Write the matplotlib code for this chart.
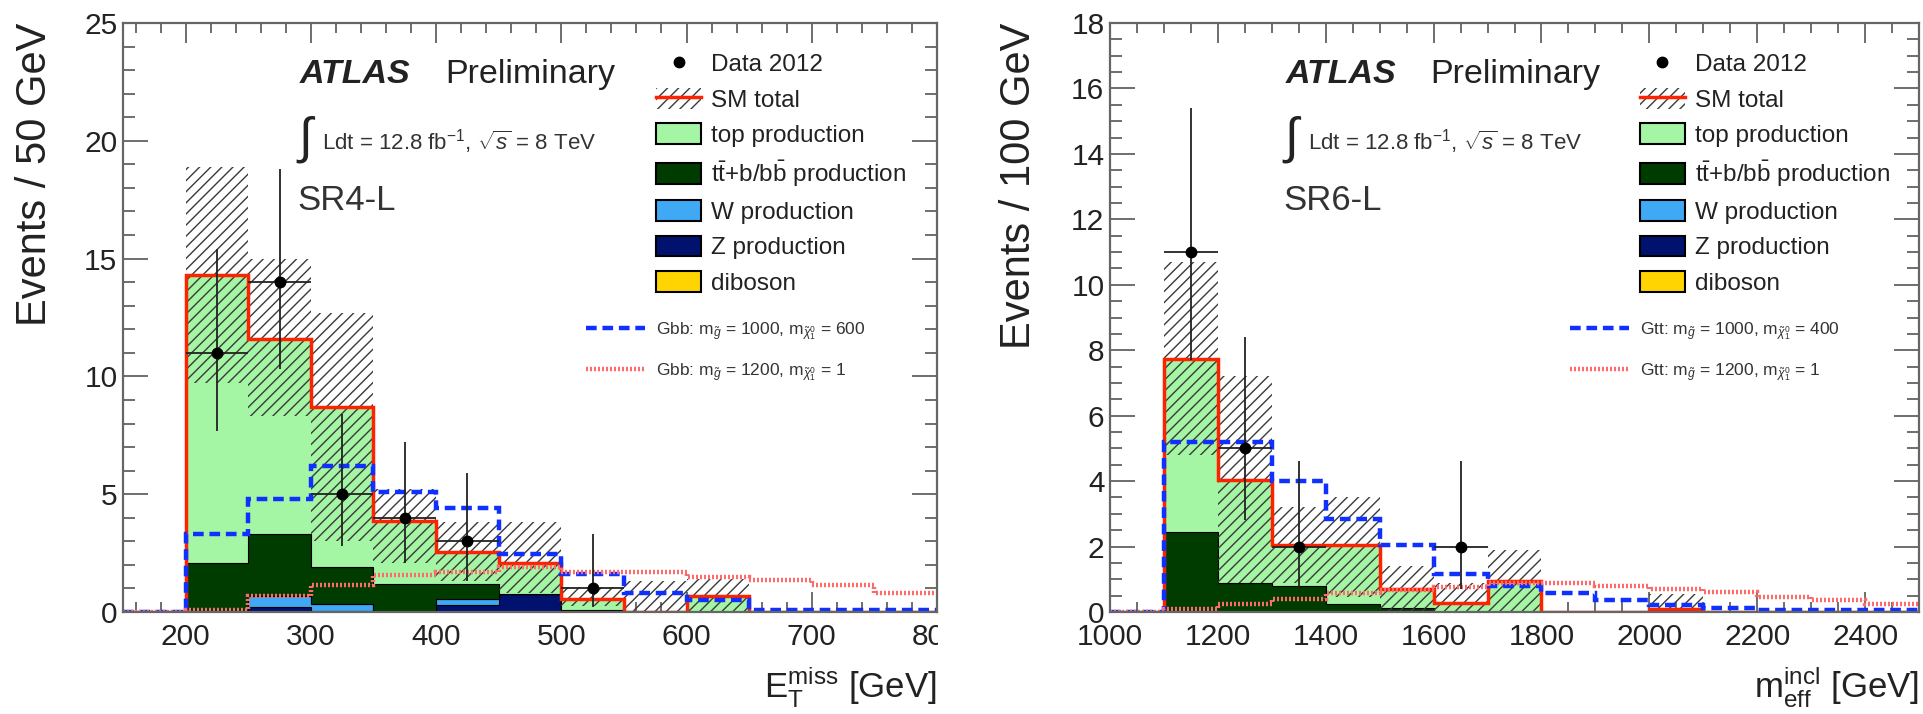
import matplotlib
matplotlib.use('Agg')
import matplotlib.pyplot as plt
from matplotlib.patches import Patch
from matplotlib.lines import Line2D
from matplotlib.ticker import MultipleLocator
from matplotlib.transforms import Bbox, TransformedBbox
import numpy as np

plt.rcParams['font.family'] = ['Liberation Sans', 'DejaVu Sans']
plt.rcParams['mathtext.fontset'] = 'custom'
plt.rcParams['mathtext.rm'] = 'Liberation Sans'
plt.rcParams['mathtext.it'] = 'Liberation Sans:italic'
plt.rcParams['mathtext.bf'] = 'Liberation Sans:bold'
plt.rcParams['hatch.linewidth'] = 1.0

# ---- SR4-L (left), 50 GeV bins ----
edges_l = [150, 200, 250, 300, 350, 400, 450, 500, 550, 600, 650, 700, 750, 800]
dib_l = [0, 0, 0, 0, 0, 0, 0, 0, 0, 0, 0, 0, 0]
z_l = [0, 0, 0.2, 0.05, 0, 0.3, 0.75, 0, 0, 0, 0, 0, 0]
w_l = [0, 0, 0.5, 0.3, 0, 0.25, 0, 0, 0, 0, 0, 0, 0]
ttbb_l = [0, 2.1, 2.6, 1.55, 1.2, 0.65, 0, 0.1, 0, 0, 0, 0, 0]
top_l = [0, 12.2, 8.3, 6.8, 2.65, 1.35, 1.35, 0.45, 0, 0.7, 0, 0, 0]
band_lo_l = [0, 9.7, 8.3, 3.0, 2.1, 1.3, 0.8, 0.25, 0, 0, 0, 0, 0]
band_hi_l = [0, 18.9, 15.0, 12.7, 5.2, 3.8, 3.8, 1.05, 1.3, 1.4, 0, 0, 0]
sig1_l = [0, 3.3, 4.8, 6.2, 5.1, 4.4, 2.45, 1.6, 0.8, 0.5, 0.1, 0.1, 0.1]
sig2_l = [0, 0.1, 0.7, 1.15, 1.55, 1.7, 1.9, 1.7, 1.7, 1.5, 1.35, 1.15, 0.8]
data_x_l = [225, 275, 325, 375, 425, 525]
data_y_l = [11, 14, 5, 4, 3, 1]
data_lo_l = [7.7, 10.3, 2.8, 2.1, 1.3, 0.2]
data_hi_l = [15.4, 18.8, 8.4, 7.2, 5.9, 3.3]

# ---- SR6-L (right), 100 GeV bins ----
edges_r = [1000, 1100, 1200, 1300, 1400, 1500, 1600, 1700, 1800, 1900, 2000,
           2100, 2200, 2300, 2400, 2500]
dib_r = [0, 0, 0, 0, 0, 0, 0, 0, 0, 0, 0, 0, 0, 0, 0]
z_r = [0, 0, 0, 0, 0, 0, 0, 0, 0, 0, 0, 0, 0, 0, 0]
w_r = [0, 0, 0, 0, 0, 0, 0, 0, 0, 0, 0, 0, 0, 0, 0]
ttbb_r = [0, 2.45, 0.9, 0.8, 0.25, 0.13, 0, 0, 0, 0, 0, 0, 0, 0, 0]
top_r = [0, 5.27, 3.12, 1.25, 1.8, 0.57, 0.27, 0.95, 0, 0, 0.1, 0, 0, 0, 0]
band_lo_r = [0, 4.8, 0.9, 0.9, 0.45, 0, 0, 0, 0, 0, 0, 0, 0, 0, 0]
band_hi_r = [0, 10.7, 7.2, 3.2, 3.5, 1.4, 0.9, 1.9, 0, 0, 0.55, 0, 0, 0, 0]
sig1_r = [0, 5.2, 5.2, 4.0, 2.85, 2.05, 1.15, 0.8, 0.58, 0.38, 0.2, 0.13, 0.05, 0.05, 0.05]
sig2_r = [0, 0.08, 0.25, 0.4, 0.58, 0.68, 0.76, 0.88, 0.88, 0.8, 0.7, 0.6, 0.47, 0.37, 0.25]
data_x_r = [1150, 1250, 1350, 1650]
data_y_r = [11, 5, 2, 2]
data_lo_r = [7.7, 2.8, 0.7, 0.7]
data_hi_r = [15.4, 8.4, 4.6, 4.6]

TOP = '#a4f5a4'
TTBB = '#003c00'
WCOL = '#3fa9f5'
ZCOL = '#00126e'
DIB = '#ffd400'
RED = '#ff2200'
BLUE = '#1030ff'
PINK = '#ff6a6a'
HATCH = '#3a3a3a'
TXT = '#222222'


def draw_panel(ax, edges, comps, band_lo, band_hi, sig1, sig2, dx, dy, dlo, dhi, hw):
    edges = np.array(edges, dtype=float)
    bottom = np.zeros(len(edges) - 1)
    for vals, col in comps:
        vals = np.array(vals, dtype=float)
        if vals.sum() > 0:
            ax.stairs(bottom + vals, edges, baseline=bottom, fill=True,
                      facecolor=col, edgecolor='black', lw=0.8, zorder=2)
        bottom = bottom + vals
    ax.stairs(band_hi, edges, baseline=band_lo, fill=True, facecolor='none',
              edgecolor=HATCH, hatch='///', lw=0, zorder=3)
    ax.stairs(bottom, edges, color=RED, lw=2.5, zorder=4)
    ax.stairs(sig1, edges, baseline=None, color=BLUE, lw=3.2,
              ls=(0, (2.4, 1.3)), zorder=5)
    ax.stairs(sig2, edges, baseline=None, color=PINK, lw=3.2,
              ls=(0, (0.45, 0.45)), zorder=5)
    dy = np.array(dy, dtype=float)
    ax.errorbar(dx, dy, yerr=[dy - np.array(dlo), np.array(dhi) - dy], xerr=hw,
                fmt='o', color='black', ms=7.5, ecolor=TXT, elinewidth=1.3,
                capsize=0, zorder=10)


def style_axes(ax, xmaj, xmin, ymaj, ymin):
    ax.xaxis.set_major_locator(MultipleLocator(xmaj))
    ax.xaxis.set_minor_locator(MultipleLocator(xmin))
    ax.yaxis.set_major_locator(MultipleLocator(ymaj))
    ax.yaxis.set_minor_locator(MultipleLocator(ymin))
    ax.tick_params(which='both', direction='in', top=True, right=True,
                   colors='#555555', labelcolor=TXT, labelsize=21.5, width=1.2)
    ax.tick_params(axis='x', which='major', length=14.4, pad=8)
    ax.tick_params(axis='x', which='minor', length=7.2)
    ax.tick_params(axis='y', which='major', length=18, pad=4)
    ax.tick_params(axis='y', which='minor', length=8.6)
    for sp in ax.spines.values():
        sp.set_color('#666666')
        sp.set_linewidth(1.6)
        sp.set_zorder(20)


def annotate(ax, region, sig1_lbl, sig2_lbl):
    ax.text(0.217, 0.898, 'ATLAS', transform=ax.transAxes, fontsize=24.5,
            fontweight='bold', style='italic', color=TXT)
    ax.text(0.396, 0.898, 'Preliminary', transform=ax.transAxes, fontsize=24.5,
            color=TXT)
    ax.text(0.212, 0.803, r'$\int$', transform=ax.transAxes, fontsize=36,
            va='center', color=TXT)
    ax.text(0.245, 0.784, r'Ldt = 12.8 fb$^{-1}$, $\sqrt{s}$ = 8 TeV',
            transform=ax.transAxes, fontsize=16, color='#333333')
    ax.text(0.214, 0.683, region, transform=ax.transAxes, fontsize=25,
            color='#333333')

    h_data = Line2D([], [], marker='o', color='black', ls='none', ms=7.5)
    h_sm = (Patch(facecolor='none', edgecolor=HATCH, hatch='///', lw=0),
            Line2D([], [], color=RED, lw=2.5))
    boxes = [Patch(facecolor=c, edgecolor='black', lw=1.5)
             for c in (TOP, TTBB, WCOL, ZCOL, DIB)]
    labels = ['Data 2012', 'SM total', 'top production',
              r'$\mathrm{t\bar{t}}$+b/$\mathrm{b\bar{b}}$ production',
              'W production', 'Z production', 'diboson']
    leg1 = ax.legend([h_data, h_sm] + boxes, labels, loc='upper left',
                     bbox_to_anchor=(0.655, 0.95), frameon=False, fontsize=17.5,
                     handlelength=1.85, handleheight=0.95, handletextpad=0.4,
                     labelspacing=0.47, borderaxespad=0, borderpad=0)
    for t in leg1.get_texts():
        t.set_color(TXT)
    ax.add_artist(leg1)

    h1 = Line2D([], [], color=BLUE, lw=3.2, ls=(0, (2.4, 1.3)))
    h2 = Line2D([], [], color=PINK, lw=3.2, ls=(0, (0.45, 0.45)))
    leg2 = ax.legend([h1, h2], [sig1_lbl, sig2_lbl], loc='upper left',
                     bbox_to_anchor=(0.569, 0.495), frameon=False, fontsize=12.5,
                     handlelength=3.4, handletextpad=0.6, labelspacing=1.1,
                     borderaxespad=0, borderpad=0)
    for t in leg2.get_texts():
        t.set_color('#333333')


fig = plt.figure(figsize=(19.24, 7.14), dpi=100)
axl = fig.add_axes([123 / 1924, 1 - 612 / 714, 814 / 1924, 589 / 714])
axr = fig.add_axes([1110 / 1924, 1 - 612 / 714, 809 / 1924, 589 / 714])

draw_panel(axl, edges_l,
           [(dib_l, DIB), (z_l, ZCOL), (w_l, WCOL), (ttbb_l, TTBB), (top_l, TOP)],
           band_lo_l, band_hi_l, sig1_l, sig2_l,
           data_x_l, data_y_l, data_lo_l, data_hi_l, 25)
draw_panel(axr, edges_r,
           [(dib_r, DIB), (z_r, ZCOL), (w_r, WCOL), (ttbb_r, TTBB), (top_r, TOP)],
           band_lo_r, band_hi_r, sig1_r, sig2_r,
           data_x_r, data_y_r, data_lo_r, data_hi_r, 50)

axl.set_xlim(150, 800)
axl.set_ylim(0, 25)
axr.set_xlim(1000, 2500)
axr.set_ylim(0, 18)
style_axes(axl, 100, 20, 5, 1)
style_axes(axr, 200, 50, 2, 0.5)

axl.set_ylabel('Events / 50 GeV', fontsize=30, loc='top', color=TXT)
axr.set_ylabel('Events / 100 GeV', fontsize=30, loc='top', color=TXT)
axl.yaxis.set_label_coords(-0.084, 1.0)
axr.yaxis.set_label_coords(-0.088, 1.0)
axl.set_xlabel(r'E$_{\mathrm{T}}^{\mathrm{miss}}$ [GeV]', fontsize=25,
               loc='right', color=TXT)
axr.set_xlabel(r'm$_{\mathrm{eff}}^{\mathrm{incl}}$ [GeV]', fontsize=25,
               loc='right', color=TXT)
axl.xaxis.set_label_coords(1.0, -0.088)
axr.xaxis.set_label_coords(1.0, -0.088)

annotate(axl, 'SR4-L',
         r'Gbb: m$_{\tilde{g}}$ = 1000, m$_{\tilde{\chi}_1^0}$ = 600',
         r'Gbb: m$_{\tilde{g}}$ = 1200, m$_{\tilde{\chi}_1^0}$ = 1')
annotate(axr, 'SR6-L',
         r'Gtt: m$_{\tilde{g}}$ = 1000, m$_{\tilde{\chi}_1^0}$ = 400',
         r'Gtt: m$_{\tilde{g}}$ = 1200, m$_{\tilde{\chi}_1^0}$ = 1')

# the left picture is cut at its right frame edge in the original
clip = TransformedBbox(Bbox([[0, 0], [938 / 1924, 1]]), fig.transFigure)
for lbl in axl.get_xticklabels():
    lbl.set_clip_box(clip)
    lbl.set_clip_on(True)

fig.savefig('out.png', dpi=100)
